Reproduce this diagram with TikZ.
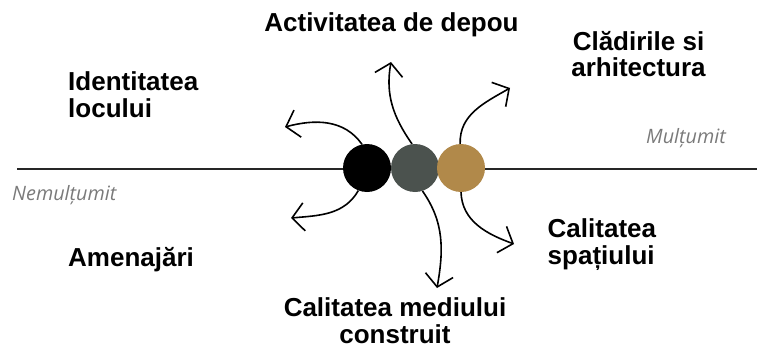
\documentclass[tikz,border=0pt]{standalone}
\usepackage{fontspec}
\setmainfont{Liberation Sans}
\newfontfamily\noteFont{Open Sans}
\usepackage{xcolor}
\usetikzlibrary{arrows.meta}
\definecolor{gris}{HTML}{4B524E}
\definecolor{ocre}{HTML}{B1894A}
\definecolor{gristexte}{HTML}{7A7A7A}
\tikzstyle{titre} = [inner sep=0pt, font=\bfseries\fontsize{26}{26.5}\selectfont]
\tikzstyle{note} = [inner sep=0pt, text=gristexte, font=\noteFont\itshape\fontsize{19.8}{19.8}\selectfont]
\tikzstyle{rond} = [circle, inner sep=0pt, minimum size=48pt]
\tikzstyle{fleche} = [line width=1.6pt, -{Straight Barb[length=12pt, width=28pt]}]

\begin{document}
\begin{tikzpicture}[x=1pt, y=1pt]
    \useasboundingbox (0,0) rectangle (757,349);

    \draw[line width=1.8pt, black!85] (17,180) -- (757,180);

    \node (noir) [rond, fill=black] at (367,181) {};
    \node (gris) [rond, fill=gris] at (415,181) {};
    \node (ocre) [rond, fill=ocre] at (461,181) {};

    \coordinate (pointe1) at (285,222);
    \coordinate (pointe2) at (291,131);
    \coordinate (pointe3) at (391,287);
    \coordinate (pointe4) at (437,61);
    \coordinate (pointe5) at (510,261);
    \coordinate (pointe6) at (514,105);

    \draw[fleche] (noir.102) to [out=125, in=15] (pointe1);
    \draw[fleche] (noir.249) to [out=240, in=5] (pointe2);
    \draw[fleche] (gris.97) to [out=125, in=-100] (pointe3);
    \draw[fleche] (gris.288) to [out=-55, in=80] (pointe4);
    \draw[fleche] (ocre.92) to [out=92, in=210] (pointe5);
    \draw[fleche] (ocre.270) to [out=-88, in=160] (pointe6);

    % base = ligne du bas pour les noeuds sur deux lignes
    \node (depou) [titre, anchor=base] at (391.5,317) {Activitatea de depou};
    \node (identitate) [titre, anchor=base west, align=left] at (68,231.7) {Identitatea\\locului};
    \node (cladiri) [titre, anchor=base, align=center] at (638.5,272.3) {Clădirile si\\arhitectura};
    \node (amenajari) [titre, anchor=base west] at (68,83) {Amenajări};
    \node (spatiu) [titre, anchor=base west, align=left] at (547.5,84.7) {Calitatea\\spațiului};
    \node (mediu) [titre, anchor=base, align=center] at (395,6) {Calitatea mediului\\construit};

    \node (multumit) [note, anchor=base west] at (646,206) {Mulțumit};
    \node (nemultumit) [note, anchor=base west] at (12,149) {Nemulțumit};
\end{tikzpicture}
\end{document}
